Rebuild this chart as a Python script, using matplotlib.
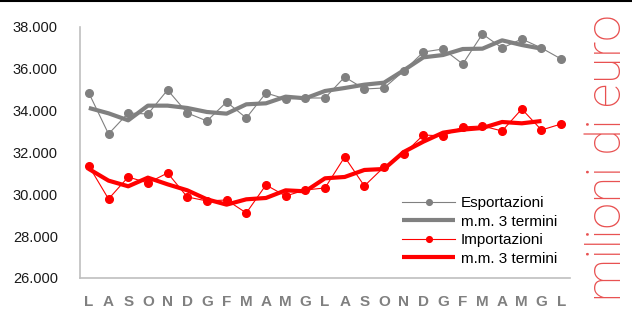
import matplotlib
matplotlib.use("Agg")
import matplotlib.pyplot as plt
from matplotlib.lines import Line2D

# month initials, luglio -> luglio two years later
MONTHS = list("LASONDGFMAMGLASONDGFMAMGL")

# monthly values (millions of euro)
EXPORTS = [34845, 32885, 33890, 33840, 34990, 33890, 33507, 34415, 33650,
           34845, 34558, 34606, 34606, 35610, 35036, 35084, 35897, 36805,
           36948, 36231, 37665, 36996, 37426, 36996, 36470]
IMPORTS = [31356, 29778, 30830, 30543, 31021, 29874, 29683, 29730, 29109,
           30447, 29922, 30208, 30304, 31786, 30400, 31308, 31929, 32837,
           32790, 33220, 33268, 33029, 34080, 33076, 33363]

# centred 3-term moving averages (stop one month before the end)
EXPORTS_MA = [34130, 33873, 33538, 34240, 34240, 34129, 33937, 33857, 34303,
              34351, 34670, 34590, 34941, 35084, 35243, 35339, 35929, 36550,
              36661, 36948, 36964, 37362, 37139, 36964]
IMPORTS_MA = [31213, 30655, 30384, 30798, 30479, 30193, 29762, 29507, 29762,
              29826, 30192, 30145, 30766, 30830, 31165, 31212, 32025, 32519,
              32949, 33093, 33172, 33459, 33395, 33506]

Y_TICKS = [26000, 28000, 30000, 32000, 34000, 36000, 38000]

GRAY = "#808080"
RED = "#ff0000"

plt.rcParams["font.family"] = ["Liberation Sans", "DejaVu Sans"]

fig = plt.figure(figsize=(6.32, 3.09), dpi=100)
ax = fig.add_axes([80 / 632, 31 / 309, 490 / 632, 251 / 309])

x = list(range(len(MONTHS)))
x_ma = x[:len(EXPORTS_MA)]

ax.plot(x, EXPORTS, color=GRAY, lw=0.8, marker="o", ms=5.5, label="Esportazioni")
ax.plot(x_ma, EXPORTS_MA, color=GRAY, lw=3, solid_capstyle="butt",
        label="m.m. 3 termini")
ax.plot(x, IMPORTS, color=RED, lw=0.8, marker="o", ms=5.5, label="Importazioni")
ax.plot(x_ma, IMPORTS_MA, color=RED, lw=3, solid_capstyle="butt",
        label="m.m. 3 termini")

ax.set_xlim(-0.45, len(MONTHS) - 0.55)
ax.set_ylim(Y_TICKS[0], Y_TICKS[-1])
ax.set_yticks(Y_TICKS)
ax.set_yticklabels([f"{v:,}".replace(",", ".") for v in Y_TICKS],
                   fontsize=10.5, color="#1a1a1a")
ax.set_xticks(x)
ax.set_xticklabels(MONTHS, fontsize=11, fontweight="bold", color=GRAY)
ax.tick_params(axis="y", length=0, pad=16)
ax.tick_params(axis="x", length=0, pad=12)

for side in ("top", "right"):
    ax.spines[side].set_visible(False)
for side in ("left", "bottom"):
    ax.spines[side].set_color("#bfbfbf")
    ax.spines[side].set_linewidth(1.2)

ax.legend(loc="upper left", bbox_to_anchor=(402 / 632, 1 - 196 / 309),
          bbox_transform=fig.transFigure, frameon=False, fontsize=11,
          handlelength=3.5, handletextpad=0.35, labelspacing=0.3,
          borderpad=0, borderaxespad=0, numpoints=1, markerscale=0.75)

fig.text(608 / 632, 0.49, "milioni di euro", rotation=90, ha="center",
         va="center", fontsize=34.5, color="#e85050",
         family=["Roboto", "DejaVu Sans"], fontweight="light")

# thin black rule along the top edge
fig.add_artist(Line2D([0, 1], [0.997, 0.997], transform=fig.transFigure,
                      color="black", lw=1.5))

fig.savefig("out.png", dpi=100)
